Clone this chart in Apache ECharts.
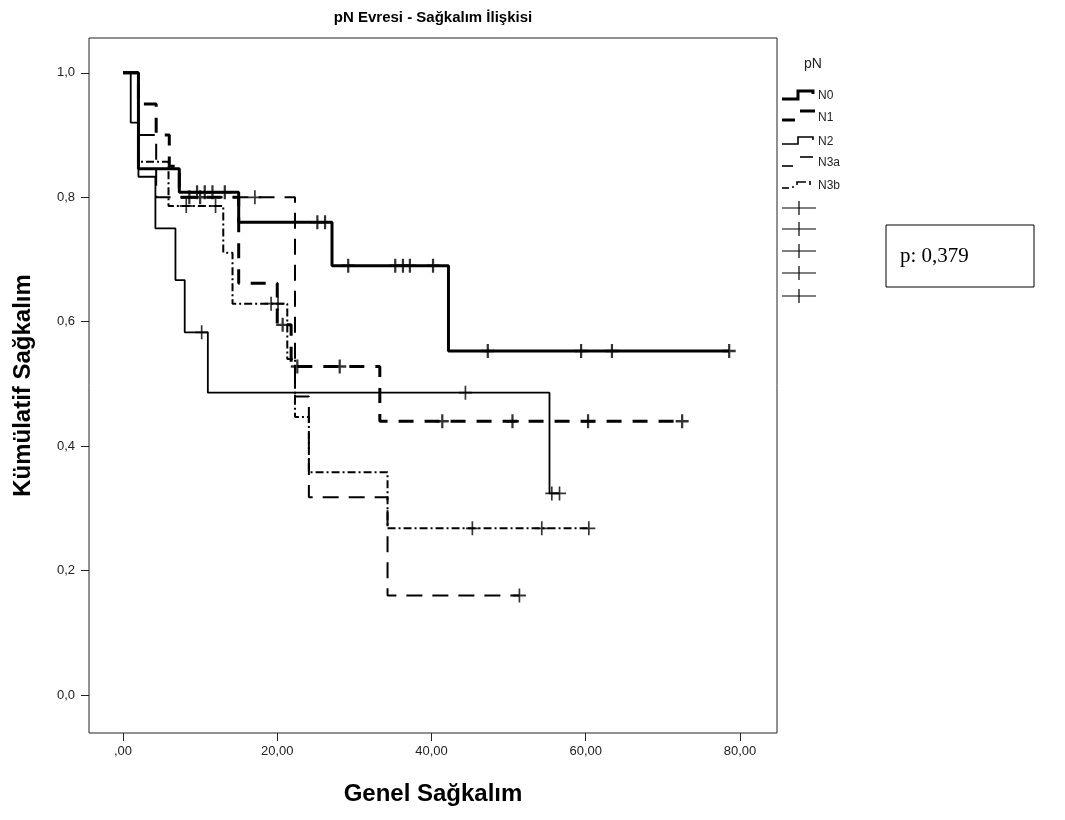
<!DOCTYPE html>
<html><head><meta charset="utf-8">
<script src="https://cdn.jsdelivr.net/npm/echarts@6/dist/echarts.min.js"></script>
<style>html,body{margin:0;padding:0;background:#fff}#c{width:1065px;height:820px}</style>
</head><body><div id="c"></div>
<script>
const chartTitle = 'pN Evresi - Sağkalım İlişkisi';
const xTitle = 'Genel Sağkalım';
const yTitle = 'Kümülatif Sağkalım';
const legendTitle = 'pN';
const groups = ['N0', 'N1', 'N2', 'N3a', 'N3b'];
const pText = 'p: 0,379';
const xTicks = [0, 20, 40, 60, 80];
const yTicks = [0, 0.2, 0.4, 0.6, 0.8, 1.0];
const xRange = [-4.41, 84.8];
const yRange = [-0.061, 1.056];

// step curves: time of each step and survival after it (last entry = end of follow-up)
const n0Time = [0, 2.0, 7.3, 15.0, 27.1, 42.2, 78.6];
const n0Surv = [1.0, 0.846, 0.808, 0.760, 0.690, 0.553, 0.553];
const n0Cens = [9.6, 10.6, 11.6, 13.2, 25.2, 26.2, 29.2, 35.3, 36.3, 37.2, 40.2, 47.3, 59.4, 63.4, 78.6];

const n1Time = [0, 2.0, 4.3, 6.0, 7.3, 15.0, 20.0, 21.8, 33.3, 72.5];
const n1Surv = [1.0, 0.95, 0.90, 0.85, 0.80, 0.662, 0.595, 0.528, 0.440, 0.440];
const n1Cens = [8.6, 10.0, 20.7, 22.6, 28.1, 41.4, 50.5, 60.3, 72.5];

const n2Time = [0, 1.0, 2.0, 4.2, 6.8, 8.0, 11.0, 55.3, 56.6];
const n2Surv = [1.0, 0.920, 0.833, 0.750, 0.667, 0.583, 0.486, 0.324, 0.324];
const n2Cens = [10.2, 44.4, 55.6, 56.6];

const n3aTime = [0, 2.0, 4.3, 22.3, 24.1, 34.3, 51.4];
const n3aSurv = [1.0, 0.90, 0.80, 0.48, 0.318, 0.160, 0.160];
const n3aCens = [17.1, 51.4];

const n3bTime = [0, 2.0, 5.9, 13.0, 14.2, 21.3, 22.3, 24.1, 34.3, 60.4];
const n3bSurv = [1.0, 0.857, 0.786, 0.711, 0.629, 0.540, 0.447, 0.358, 0.268, 0.268];
const n3bCens = [8.2, 12.0, 19.2, 20.1, 45.3, 54.3, 60.4];

function survAt(T, S, t) {
  let v = S[0];
  for (let i = 0; i < T.length; i++) { if (T[i] <= t) v = S[i]; }
  return v;
}
const curves = [
  { name: 'N0', T: n0Time, S: n0Surv, C: n0Cens, width: 3, dash: 'solid', cw: 1.2 },
  { name: 'N1', T: n1Time, S: n1Surv, C: n1Cens, width: 3, dash: [15, 11], cw: 1.2 },
  { name: 'N2', T: n2Time, S: n2Surv, C: n2Cens, width: 1.8, dash: 'solid', cw: 0.9 },
  { name: 'N3a', T: n3aTime, S: n3aSurv, C: n3aCens, width: 2, dash: [16, 10], cw: 0.9 },
  { name: 'N3b', T: n3bTime, S: n3bSurv, C: n3bCens, width: 2, dash: [8, 3, 2, 3], cw: 0.9 }
];
function crossPath(h) {
  return 'path://M' + (-h) + ',-7 L' + h + ',-7 L' + h + ',' + (-h) + ' L7,' + (-h) + ' L7,' + h + ' L' + h + ',' + h +
    ' L' + h + ',7 L' + (-h) + ',7 L' + (-h) + ',' + h + ' L-7,' + h + ' L-7,' + (-h) + ' L' + (-h) + ',' + (-h) + ' Z';
}
const series = [];
curves.forEach(c => {
  series.push({
    type: 'line', name: c.name, step: 'end',
    data: c.T.map((t, i) => [t, c.S[i]]), showSymbol: false, symbol: 'none',
    lineStyle: { color: '#000', width: c.width, type: c.dash }, silent: true, z: 3
  });
  series.push({
    type: 'scatter', name: c.name + ' +',
    data: c.C.map(t => [t, survAt(c.T, c.S, t)]),
    symbol: crossPath(c.cw), symbolSize: [13, 14], itemStyle: { color: '#000' }, silent: true, z: 4
  });
});

const font = '"Liberation Sans", Arial, sans-serif';
const lx0 = 782, lx1 = 816;
const legendEls = [];
legendEls.push({ type: 'text', x: 813, y: 64, style: { text: legendTitle, font: '14px ' + font, fill: '#222', textAlign: 'center', textVerticalAlign: 'middle' } });
const glyphs = [
  [{ pts: [[782, 99], [798, 99], [798, 91], [813, 91], [813, 94]], w: 3 }],
  [{ pts: [[782, 120], [795, 120]], w: 3 }, { pts: [[800, 111], [815, 111]], w: 3 }],
  [{ pts: [[782, 144], [798, 144], [798, 137], [813, 137], [813, 140]], w: 1.6 }],
  [{ pts: [[782, 166], [793, 166]], w: 1.6 }, { pts: [[800, 157], [813, 157]], w: 1.6 }],
  [{ pts: [[782, 188], [789, 188]], w: 1.6 }, { pts: [[792, 187], [794, 187]], w: 1.6 }, { pts: [[797, 185], [797, 182], [806, 182]], w: 1.6 }, { pts: [[810, 181], [810, 185]], w: 1.6 }]
];
const labelY = [96, 118, 142, 163, 186];
groups.forEach((g, i) => {
  glyphs[i].forEach(p => legendEls.push({ type: 'polyline', shape: { points: p.pts }, style: { stroke: '#000', lineWidth: p.w, fill: null } }));
  legendEls.push({ type: 'text', x: 818, y: labelY[i], style: { text: g, font: '12px ' + font, fill: '#222', textVerticalAlign: 'middle' } });
});
const crossY = [208, 229, 251, 273, 296];
crossY.forEach(y => {
  legendEls.push({ type: 'line', shape: { x1: lx0, y1: y, x2: lx1, y2: y }, style: { stroke: '#000', lineWidth: 1.2 } });
  legendEls.push({ type: 'line', shape: { x1: 799, y1: y - 7, x2: 799, y2: y + 7 }, style: { stroke: '#000', lineWidth: 1.2 } });
});

const chart = echarts.init(document.getElementById('c'), null, { renderer: 'canvas' });
chart.setOption({
  animation: false,
  backgroundColor: '#fff',
  grid: { left: 89, top: 38, width: 688, height: 695, show: true, borderColor: '#222', borderWidth: 1, backgroundColor: 'transparent' },
  xAxis: {
    type: 'value', min: xRange[0], max: xRange[1], position: 'bottom',
    axisLine: { show: false, onZero: false }, splitLine: { show: false },
    axisTick: { show: true, length: 8, customValues: xTicks, lineStyle: { color: '#222', width: 1 } },
    axisLabel: { color: '#222', fontSize: 13, fontFamily: font, margin: 12, customValues: xTicks,
      formatter: v => v === 0 ? ',00' : v.toFixed(2).replace('.', ',') },
    name: xTitle, nameLocation: 'middle', nameGap: 49,
    nameTextStyle: { color: '#000', fontSize: 24, fontWeight: 'bold', fontFamily: font }
  },
  yAxis: {
    type: 'value', min: yRange[0], max: yRange[1], position: 'left',
    axisLine: { show: false, onZero: false }, splitLine: { show: false },
    axisTick: { show: true, length: 8, customValues: yTicks, lineStyle: { color: '#222', width: 1 } },
    axisLabel: { color: '#222', fontSize: 13, fontFamily: font, margin: 14, customValues: yTicks,
      formatter: v => v.toFixed(1).replace('.', ',') },
    name: yTitle, nameLocation: 'middle', nameGap: 54,
    nameTextStyle: { color: '#000', fontSize: 24, fontWeight: 'bold', fontFamily: font }
  },
  series: series,
  graphic: [
    { type: 'text', x: 433, y: 18, style: { text: chartTitle, font: 'bold 15px ' + font, fill: '#000', textAlign: 'center', textVerticalAlign: 'middle' } },
    { type: 'rect', shape: { x: 886, y: 225, width: 148, height: 62 }, style: { fill: '#fff', stroke: '#000', lineWidth: 1 } },
    { type: 'text', x: 900, y: 256, style: { text: pText, font: '21px "Liberation Serif", "Times New Roman", serif', fill: '#000', textVerticalAlign: 'middle' } }
  ].concat(legendEls)
});
</script>
</body></html>
